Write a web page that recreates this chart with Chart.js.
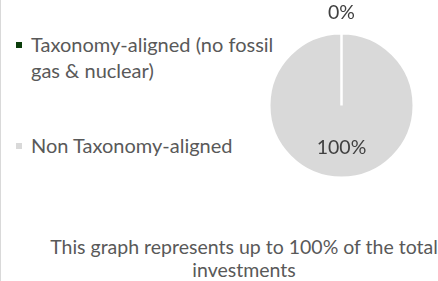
<!DOCTYPE html>
<html>
<head>
<meta charset="utf-8">
<script src="https://cdn.jsdelivr.net/npm/chart.js@4/dist/chart.umd.min.js"></script>
<style>
  html, body { margin:0; padding:0; background:#fff; }
  body { width:438px; height:281px; position:relative; overflow:hidden; font-family:"Lato", sans-serif; color:#595959; }
  #frame { position:absolute; left:0; top:0; width:1px; height:281px; background:#d9d9d9; }
  #chartBox { position:absolute; left:249px; top:0; width:185px; height:200px; }
  .leg { position:absolute; left:31px; font-size:20px; line-height:26px; white-space:nowrap; }
  .mk { position:absolute; left:-15px; width:6px; height:6px; }
  #caption { position:absolute; left:44px; width:400px; top:235px; text-align:center; font-size:19.5px; line-height:23px; }
</style>
</head>
<body>
<div id="frame"></div>
<div id="legend"></div>
<div id="chartBox"><canvas id="c"></canvas></div>
<div id="caption"></div>
<script>
const categories = ["Taxonomy-aligned (no fossil gas & nuclear)", "Non Taxonomy-aligned"];
const legendLines = [["Taxonomy-aligned (no fossil", "gas & nuclear)"], ["Non Taxonomy-aligned"]];
const values = [0, 100];
const valueLabels = ["0%", "100%"];
const colors = ["#0b3d0b", "#d9d9d9"];
const captionLines = ["This graph represents up to 100% of the total", "investments"];

const legendTops = [31, 132];
const legend = document.getElementById('legend');
categories.forEach((cat, i) => {
  const d = document.createElement('div');
  d.className = 'leg';
  d.style.top = legendTops[i] + 'px';
  d.innerHTML = legendLines[i].join('<br>');
  const m = document.createElement('span');
  m.className = 'mk';
  m.style.background = colors[i];
  m.style.top = '11px';
  d.appendChild(m);
  legend.appendChild(d);
});
document.getElementById('caption').innerHTML = captionLines.join('<br>');

const labelPlugin = {
  id: 'sliceLabels',
  afterDatasetsDraw(chart) {
    const ctx = chart.ctx;
    const meta = chart.getDatasetMeta(0);
    ctx.save();
    ctx.font = '19.5px Lato';
    ctx.fillStyle = '#404040';
    ctx.textAlign = 'center';
    ctx.textBaseline = 'middle';
    meta.data.forEach((arc, i) => {
      const p = arc.getProps(['x','y','startAngle','endAngle','outerRadius'], true);
      const mid = (p.startAngle + p.endAngle) / 2;
      const r = values[i] === 0 ? p.outerRadius + 21 : p.outerRadius * 0.58;
      ctx.fillText(valueLabels[i], p.x + Math.cos(mid) * r, p.y + Math.sin(mid) * r);
    });
    ctx.restore();
  }
};

new Chart(document.getElementById('c'), {
  type: 'pie',
  data: {
    labels: categories,
    datasets: [{
      data: values,
      backgroundColor: colors,
      borderColor: '#ffffff',
      borderWidth: 2.5
    }]
  },
  options: {
    responsive: true,
    maintainAspectRatio: false,
    animation: false,
    layout: { padding: { left: 19, right: 19, top: 32, bottom: 21 } },
    plugins: { legend: { display: false }, tooltip: { enabled: false } }
  },
  plugins: [labelPlugin]
});
</script>
</body>
</html>
